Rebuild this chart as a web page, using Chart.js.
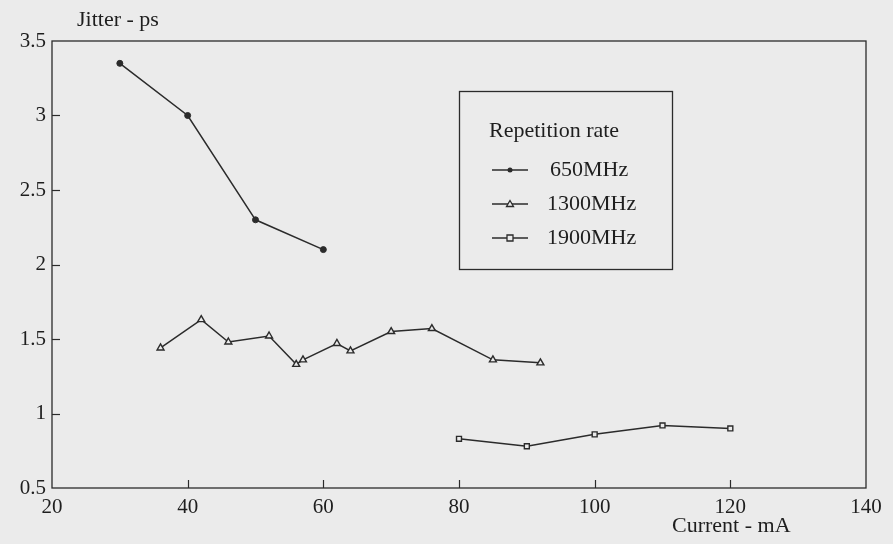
<!DOCTYPE html>
<html>
<head>
<meta charset="utf-8">
<script src="https://cdn.jsdelivr.net/npm/chart.js@4.4.1/dist/chart.umd.min.js"></script>
<style>
  html, body { margin: 0; padding: 0; background: #ebebeb; }
  #wrap { width: 893px; height: 544px; }
</style>
</head>
<body>
<div id="wrap"><canvas id="c" width="893" height="544"></canvas></div>
<script>
// Jitter versus drive current for three repetition rates
const current650 = [30, 40, 50, 60];
const jitter650 = [3.35, 3.0, 2.3, 2.1];

const current1300 = [36, 42, 46, 52, 56, 57, 62, 64, 70, 76, 85, 92];
const jitter1300 = [1.44, 1.63, 1.48, 1.52, 1.33, 1.36, 1.47, 1.42, 1.55, 1.57, 1.36, 1.34];

const current1900 = [80, 90, 100, 110, 120];
const jitter1900 = [0.83, 0.78, 0.86, 0.92, 0.90];

const xTicks = [20, 40, 60, 80, 100, 120, 140];
const yTicks = [0.5, 1, 1.5, 2, 2.5, 3, 3.5];

const seriesLabels = ['650MHz', '1300MHz', '1900MHz'];

const ink = '#2b2b2b';
const paper = '#ebebeb';
const serif = '"Liberation Serif", "DejaVu Serif", serif';

function pts(xs, ys) { return xs.map((x, i) => ({ x: x, y: ys[i] })); }

// Frame, inward ticks, axis titles and the boxed legend
const decorations = {
  id: 'decorations',
  afterDraw(chart) {
    const { ctx, chartArea: a, scales } = chart;
    ctx.save();
    ctx.strokeStyle = ink;
    ctx.lineWidth = 1.3;
    ctx.strokeRect(a.left, a.top, a.right - a.left, a.bottom - a.top);

    ctx.lineWidth = 1.2;
    xTicks.forEach(v => {
      if (v === xTicks[0] || v === xTicks[xTicks.length - 1]) return;
      const px = Math.round(scales.x.getPixelForValue(v)) + 0.5;
      ctx.beginPath(); ctx.moveTo(px, a.bottom); ctx.lineTo(px, a.bottom - 8); ctx.stroke();
    });
    yTicks.forEach(v => {
      if (v === yTicks[0] || v === yTicks[yTicks.length - 1]) return;
      const py = Math.round(scales.y.getPixelForValue(v)) + 0.5;
      ctx.beginPath(); ctx.moveTo(a.left, py); ctx.lineTo(a.left + 8, py); ctx.stroke();
    });

    ctx.fillStyle = '#1e1e1e';
    ctx.font = '22px ' + serif;
    ctx.textBaseline = 'middle';
    ctx.textAlign = 'left';
    ctx.fillText('Jitter - ps', 77, 20);
    ctx.fillText('Current - mA', 672, 526);

    // legend box
    const bx = 459, by = 91, bw = 213, bh = 178;
    ctx.strokeStyle = ink;
    ctx.lineWidth = 1.3;
    ctx.strokeRect(bx + 0.5, by + 0.5, bw, bh);
    ctx.fillText('Repetition rate', 489, 131);
    const rowY = [170, 204, 238];
    const textX = [550, 547, 547];
    chart.data.datasets.forEach((ds, i) => {
      const y = rowY[i];
      ctx.strokeStyle = ink;
      ctx.lineWidth = 1.3;
      ctx.beginPath(); ctx.moveTo(492, y); ctx.lineTo(528, y); ctx.stroke();
      ctx.fillStyle = ds.pointStyle === 'circle' ? ink : paper;
      ctx.beginPath();
      if (ds.pointStyle === 'circle') {
        ctx.arc(510, y, 2.5, 0, Math.PI * 2);
        ctx.fill();
      } else if (ds.pointStyle === 'triangle') {
        ctx.moveTo(510, y - 3.5); ctx.lineTo(513.5, y + 2.5); ctx.lineTo(506.5, y + 2.5); ctx.closePath();
        ctx.fill(); ctx.stroke();
      } else {
        ctx.rect(507, y - 3, 6, 6);
        ctx.fill(); ctx.stroke();
      }
      ctx.fillStyle = '#1e1e1e';
      ctx.fillText(ds.label, textX[i], y);
    });
    ctx.restore();
  }
};

new Chart(document.getElementById('c'), {
  type: 'scatter',
  data: {
    datasets: [
      {
        label: seriesLabels[0], data: pts(current650, jitter650), showLine: true,
        borderColor: ink, backgroundColor: ink, borderWidth: 1.5,
        pointStyle: 'circle', pointRadius: 3, pointBorderWidth: 1
      },
      {
        label: seriesLabels[1], data: pts(current1300, jitter1300), showLine: true,
        borderColor: ink, backgroundColor: paper, borderWidth: 1.5,
        pointStyle: 'triangle', pointRadius: 4, pointBorderWidth: 1.4
      },
      {
        label: seriesLabels[2], data: pts(current1900, jitter1900), showLine: true,
        borderColor: ink, backgroundColor: paper, borderWidth: 1.5,
        pointStyle: 'rect', pointRadius: 3.5, pointBorderWidth: 1.4
      }
    ]
  },
  options: {
    responsive: false,
    animation: false,
    events: [],
    layout: { padding: { top: 41, right: 27, left: 0, bottom: 0 } },
    plugins: { legend: { display: false }, tooltip: { enabled: false } },
    scales: {
      x: {
        type: 'linear', min: 20, max: 140,
        afterFit(s) { s.height = 56; },
        afterBuildTicks(s) { s.ticks = xTicks.map(v => ({ value: v })); },
        grid: { display: false, drawTicks: false },
        border: { display: false },
        ticks: { color: '#1e1e1e', font: { family: serif, size: 21 }, padding: 7, maxRotation: 0,
                 callback: v => String(v) }
      },
      y: {
        type: 'linear', min: 0.5, max: 3.5,
        afterFit(s) { s.width = 52; },
        afterBuildTicks(s) { s.ticks = yTicks.map(v => ({ value: v })); },
        grid: { display: false, drawTicks: false },
        border: { display: false },
        ticks: { color: '#1e1e1e', font: { family: serif, size: 21 }, padding: 6,
                 callback: v => String(v) }
      }
    }
  },
  plugins: [decorations]
});
</script>
</body>
</html>
